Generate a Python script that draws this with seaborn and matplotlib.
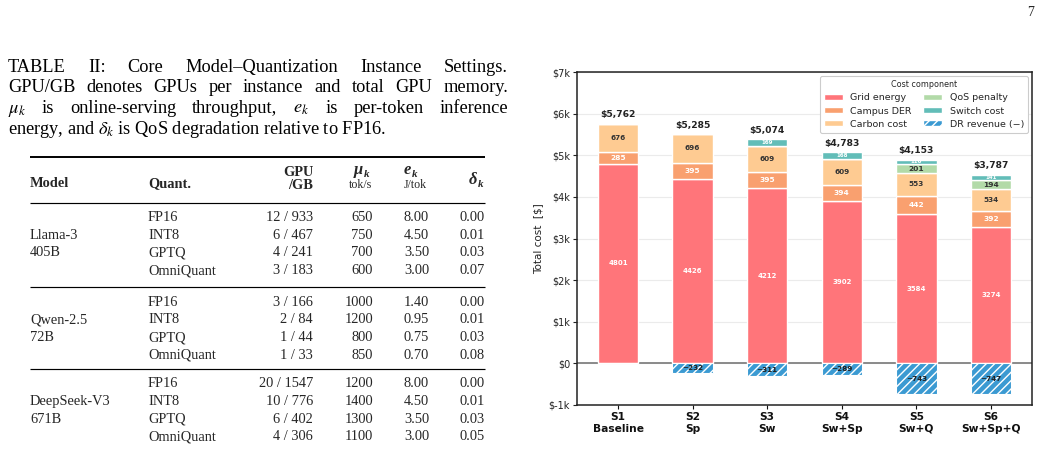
import numpy as np
import matplotlib
matplotlib.use("Agg")
import matplotlib.pyplot as plt
import seaborn as sns
from matplotlib.patches import Patch

# ---------------- chart data ----------------
scenarios = ["S1\nBaseline", "S2\nSp", "S3\nSw", "S4\nSw+Sp", "S5\nSw+Q", "S6\nSw+Sp+Q"]
grid_energy = [4801, 4426, 4212, 3902, 3584, 3274]
campus_der = [285, 395, 395, 394, 442, 392]
carbon_cost = [676, 696, 609, 609, 553, 534]
qos_penalty = [0, 0, 0, 0, 201, 194]
switch_cost = [0, 0, 169, 168, 116, 141]
dr_revenue = [0, -232, -311, -289, -743, -747]
net_total = [5762, 5285, 5074, 4783, 4153, 3787]
component_names = ["Grid energy", "Campus DER", "Carbon cost",
                   "QoS penalty", "Switch cost", "DR revenue (\u2212)"]
y_ticks = [-1000, 0, 1000, 2000, 3000, 4000, 5000, 6000, 7000]

# ---------------- table data ----------------
caption_lines = [
    "TABLE II: Core Model\u2013Quantization Instance Settings.",
    "GPU/GB denotes GPUs per instance and total GPU memory.",
    r"$\mu_k$ is online-serving throughput, $e_k$ is per-token inference",
    r"energy, and $\delta_k$ is QoS degradation relative to FP16.",
]
models = [("Llama-3", "405B"), ("Qwen-2.5", "72B"), ("DeepSeek-V3", "671B")]
quants = ["FP16", "INT8", "GPTQ", "OmniQuant"]
gpu_gb = [["12 / 933", "6 / 467", "4 / 241", "3 / 183"],
          ["3 / 166", "2 / 84", "1 / 44", "1 / 33"],
          ["20 / 1547", "10 / 776", "6 / 402", "4 / 306"]]
mu_k = [[650, 750, 700, 600], [1000, 1200, 800, 850], [1200, 1400, 1300, 1100]]
e_k = [[8.00, 4.50, 3.50, 3.00], [1.40, 0.95, 0.75, 0.70], [8.00, 4.50, 3.50, 3.00]]
delta_k = [[0.00, 0.01, 0.03, 0.07], [0.00, 0.01, 0.03, 0.08], [0.00, 0.01, 0.03, 0.05]]

# ---------------- style ----------------
sns.set_theme(style="whitegrid", rc={
    "axes.edgecolor": "#222222",
    "grid.color": "#ebebeb",
    "grid.linewidth": 0.8,
})
plt.rcParams["font.family"] = ["DejaVu Sans"]
plt.rcParams["mathtext.fontset"] = "stix"
plt.rcParams["hatch.linewidth"] = 1.0

colors = ["#FF757A", "#F9A06F", "#FECB92", "#B2DAA8", "#62BDB8", "#3B9AD2"]
label_colors = ["white", "white", "#333333", "#333333", "white", "#222222"]
label_sizes = [5.0, 5.4, 5.2, 5.4, 4.0, 5.2]

fig = plt.figure(figsize=(10.41, 4.5), dpi=100)

# ---------------- left: table (pixel coordinates) ----------------
tax = fig.add_axes([0, 0, 1, 1])
tax.set_xlim(0, 1041)
tax.set_ylim(450, 0)
tax.axis("off")
serif = "Liberation Serif"

renderer = fig.canvas.get_renderer()
CAP = 13.2
FS = 10.4


def justify(words, x0, x1, y, size):
    texts = [tax.text(0, y, w, ha="left", va="baseline", fontsize=size,
                      family=serif, color="black") for w in words]
    widths = [t.get_window_extent(renderer).width for t in texts]
    gap = (x1 - x0 - sum(widths)) / (len(words) - 1)
    x = x0
    for t, w in zip(texts, widths):
        t.set_x(x)
        x += w + gap


cap_base = [72, 92.5, 113, 134]
for i, line in enumerate(caption_lines):
    if i < 3:
        justify(line.split(" "), 8, 508, cap_base[i], CAP)
    else:
        tax.text(8, cap_base[i], line, ha="left", va="baseline", fontsize=CAP,
                 family=serif, color="black")

# rules
tax.plot([30, 485], [157, 157], color="black", lw=1.4, solid_capstyle="butt")
for yr in [203, 286.7, 369]:
    tax.plot([30, 485], [yr, yr], color="black", lw=0.85, solid_capstyle="butt")


def sym(x_split, y, glyph):
    tax.text(x_split, y, glyph, ha="right", va="baseline", fontsize=FS + 1.5,
             family=serif, weight="bold", style="italic")
    tax.text(x_split + 0.5, y + 3, "k", ha="left", va="baseline", fontsize=FS - 2.5,
             family=serif, weight="bold", style="italic")


# header
tax.text(30, 187, "Model", ha="left", va="baseline", fontsize=FS, family=serif, weight="bold")
tax.text(148, 187, "Quant.", ha="left", va="baseline", fontsize=FS, family=serif, weight="bold")
tax.text(313, 175.5, "GPU", ha="right", va="baseline", fontsize=FS, family=serif, weight="bold")
tax.text(313, 189, "/GB", ha="right", va="baseline", fontsize=FS, family=serif, weight="bold")
sym(363, 174, "\u03bc")
tax.text(360, 187.5, "tok/s", ha="center", va="baseline", fontsize=8.6, family=serif)
sym(411, 174, "e")
tax.text(415.5, 187.5, "J/tok", ha="center", va="baseline", fontsize=8.6, family=serif)
sym(477, 184, "\u03b4")

group_first = [221, 305.7, 387.3]
row_step = 17.7
for g in range(3):
    y0 = group_first[g]
    tax.text(30, y0 + row_step, models[g][0], ha="left", va="baseline", fontsize=FS, family=serif)
    tax.text(30, y0 + 2 * row_step, models[g][1], ha="left", va="baseline", fontsize=FS, family=serif)
    for r in range(4):
        yb = y0 + r * row_step
        tax.text(148, yb, quants[r], ha="left", va="baseline", fontsize=FS, family=serif)
        tax.text(313, yb, gpu_gb[g][r], ha="right", va="baseline", fontsize=FS, family=serif)
        tax.text(373, yb, f"{mu_k[g][r]}", ha="right", va="baseline", fontsize=FS, family=serif)
        tax.text(429, yb, f"{e_k[g][r]:.2f}", ha="right", va="baseline", fontsize=FS, family=serif)
        tax.text(485, yb, f"{delta_k[g][r]:.2f}", ha="right", va="baseline", fontsize=FS, family=serif)

# page number
tax.text(1031, 16, "7", ha="center", va="baseline", fontsize=10, family=serif)

# ---------------- right: stacked bar chart ----------------
ax = fig.add_axes([577 / 1041, 45 / 450, 455 / 1041, 333 / 450])

pos_components = [grid_energy, campus_der, carbon_cost, qos_penalty, switch_cost]
bottoms = np.zeros(len(scenarios))
for k, vals in enumerate(pos_components):
    vals = np.asarray(vals, dtype=float)
    sns.barplot(x=scenarios, y=vals, bottom=bottoms.copy(), order=scenarios,
                color=colors[k], saturation=1, width=0.54, edgecolor="white",
                linewidth=1.0, errorbar=None, ax=ax, zorder=3)
    for i, v in enumerate(vals):
        if v != 0:
            ax.text(i, bottoms[i] + v / 2, f"{int(v)}", ha="center", va="center",
                    fontsize=label_sizes[k], color=label_colors[k], weight="bold",
                    zorder=5)
    bottoms += vals

dr = np.asarray(dr_revenue, dtype=float)
sns.barplot(x=scenarios, y=dr, order=scenarios, color=colors[5], saturation=1,
            width=0.54, edgecolor="white", linewidth=0.8, hatch="////",
            errorbar=None, ax=ax, zorder=3)
for i, v in enumerate(dr):
    if v != 0:
        ax.text(i, v / 2, f"\u2212{abs(int(v))}", ha="center", va="center",
                fontsize=label_sizes[5], color=label_colors[5], weight="bold", zorder=5)

for i, tot in enumerate(net_total):
    ax.annotate(f"\\${tot:,}", xy=(i, bottoms[i]), xytext=(0, 3),
                textcoords="offset points", ha="center", va="bottom",
                fontsize=6.6, weight="bold", color="#222222", zorder=6)

ax.axhline(0, color="#8a8a8a", lw=1.4, zorder=2)
ax.set_xlim(-0.55, len(scenarios) - 0.45)
ax.set_ylim(-1000, 7000)
ax.set_yticks(y_ticks)
ax.set_yticklabels([f"\\${int(t / 1000)}k" if t != 0 else "\\$0" for t in y_ticks])
ax.grid(axis="x", visible=False)
ax.grid(axis="y", visible=True)
ax.set_axisbelow(True)
ax.set_ylabel("Total cost  [\\$]", fontsize=7.5, color="#222222", labelpad=4)
ax.set_xlabel("")
ax.tick_params(axis="y", labelsize=7, colors="#222222", length=3, width=0.8, left=True, pad=2)
ax.tick_params(axis="x", labelsize=7.7, colors="#111111", length=3, width=0.8, bottom=True, pad=2)
for lab in ax.get_xticklabels():
    lab.set_fontweight("bold")
for side, sp in ax.spines.items():
    sp.set_color("#222222")
    sp.set_linewidth(1.1)

handles = [Patch(facecolor=colors[k], edgecolor="white", label=component_names[k])
           for k in range(5)]
handles.append(Patch(facecolor=colors[5], edgecolor="white", hatch="////",
                     label=component_names[5]))
leg = ax.legend(handles=handles, title="Cost component", ncol=2, loc="upper right",
                fontsize=6.8, title_fontsize=5.8, frameon=True, framealpha=1,
                edgecolor="#cccccc", borderaxespad=0.4, columnspacing=1.2,
                handlelength=2.0, handleheight=0.6, labelspacing=0.45,
                borderpad=0.45)
leg.get_frame().set_linewidth(0.8)

fig.savefig("out.png", dpi=100)
